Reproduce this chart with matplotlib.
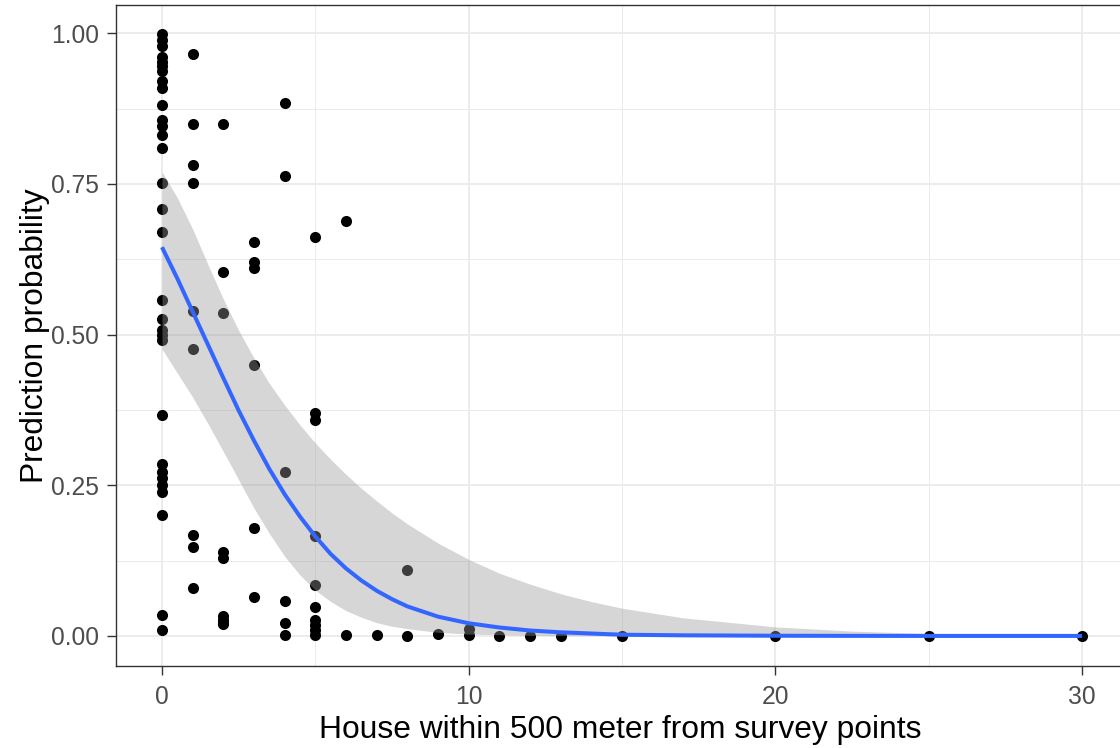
import matplotlib
matplotlib.use("Agg")
import matplotlib.pyplot as plt
from matplotlib.ticker import FixedLocator

# ---- observed points ----
house_x = ([0] * 31 + [1] * 9 + [2] * 9 + [3] * 6 + [4] * 6 + [5] * 10 +
           [6, 6, 7, 8, 8, 9, 10, 10, 11, 12, 13, 15, 20, 25, 30])
prob_y = [
    # x = 0
    0.998, 0.988, 0.978, 0.961, 0.953, 0.945, 0.937, 0.920, 0.909, 0.881,
    0.856, 0.846, 0.831, 0.809, 0.751, 0.709, 0.671, 0.557, 0.526, 0.507,
    0.499, 0.491, 0.367, 0.286, 0.272, 0.262, 0.250, 0.238, 0.200, 0.035,
    0.010,
    # x = 1
    0.965, 0.849, 0.782, 0.752, 0.539, 0.476, 0.167, 0.148, 0.079,
    # x = 2
    0.849, 0.603, 0.535, 0.140, 0.130, 0.033, 0.027, 0.021, 0.020,
    # x = 3
    0.654, 0.621, 0.610, 0.449, 0.179, 0.064,
    # x = 4
    0.884, 0.763, 0.272, 0.058, 0.021, 0.002,
    # x = 5
    0.662, 0.370, 0.358, 0.166, 0.085, 0.048, 0.027, 0.018, 0.010, 0.002,
    # x = 6 .. 30
    0.689, 0.001, 0.001, 0.109, 0.000, 0.003, 0.011, 0.001, 0.000, 0.000,
    0.000, 0.000, 0.000, 0.000, 0.000,
]

# ---- smoother (logistic fit) ----
x_fit = [0, 0.5, 1, 1.5, 2, 2.5, 3, 3.5, 4, 4.5, 5, 5.5, 6, 6.5, 7, 7.5, 8,
         9, 10, 11, 12, 13, 14, 15, 17, 20, 22.5, 25, 30]
fit = [0.645, 0.593, 0.538, 0.483, 0.428, 0.374, 0.324, 0.277, 0.235, 0.198,
       0.165, 0.136, 0.112, 0.092, 0.075, 0.061, 0.049, 0.032, 0.021, 0.014,
       0.009, 0.006, 0.004, 0.002, 0.001, 0.0003, 0.0001, 0.0, 0.0]
upper = [0.770, 0.727, 0.675, 0.616, 0.559, 0.507, 0.461, 0.419, 0.383, 0.350,
         0.320, 0.293, 0.268, 0.245, 0.224, 0.204, 0.186, 0.154, 0.127, 0.104,
         0.086, 0.070, 0.057, 0.046, 0.030, 0.015, 0.008, 0.004, 0.001]
lower = [0.476, 0.436, 0.396, 0.352, 0.306, 0.259, 0.212, 0.170, 0.132, 0.101,
         0.076, 0.057, 0.042, 0.031, 0.022, 0.016, 0.012, 0.006, 0.003, 0.002,
         0.001, 0.0005, 0.0003, 0.0002, 0.0001, 0.0, 0.0, 0.0, 0.0]

x_ticks = [0, 10, 20, 30]
x_minor = [5, 15, 25]
y_ticks = [0.00, 0.25, 0.50, 0.75, 1.00]
y_minor = [0.125, 0.375, 0.625, 0.875]
y_tick_labels = ["0.00", "0.25", "0.50", "0.75", "1.00"]

plt.rcParams['font.family'] = ['Liberation Sans', 'DejaVu Sans']

W, H = 1120, 748
fig = plt.figure(figsize=(W / 100, H / 100), dpi=100)
fig.patch.set_facecolor('white')
ax = fig.add_axes([116 / W, 82 / H, 1012 / W, 661 / H])

ax.set_xlim(-1.5, 31.5)
ax.set_ylim(-0.0499, 1.0468)

ax.xaxis.set_major_locator(FixedLocator(x_ticks))
ax.xaxis.set_minor_locator(FixedLocator(x_minor))
ax.yaxis.set_major_locator(FixedLocator(y_ticks))
ax.yaxis.set_minor_locator(FixedLocator(y_minor))
ax.set_yticklabels(y_tick_labels)

ax.set_axisbelow(True)
ax.grid(which='major', color='#EBEBEB', linewidth=1.3)
ax.grid(which='minor', color='#EBEBEB', linewidth=0.7)

for s in ax.spines.values():
    s.set_color('#333333')
    s.set_linewidth(1.0)

ax.tick_params(which='major', length=6.5, width=1.0, color='#333333',
               labelsize=17.7, labelcolor='#4D4D4D')
ax.tick_params(axis='y', which='major', pad=5.8)
ax.tick_params(axis='x', which='major', pad=7.0)
ax.tick_params(which='minor', length=0)

ax.scatter(house_x, prob_y, s=64, c='black', linewidths=0, zorder=2)
ax.fill_between(x_fit, lower, upper, color='#999999', alpha=0.4,
                linewidth=0, zorder=3)
ax.plot(x_fit, fit, color='#3366FF', linewidth=2.9, zorder=4,
        solid_capstyle='butt')

fig.text(620 / W, (H - 738) / H, "House within 500 meter from survey points",
         ha='center', va='baseline', fontsize=22.9, color='black')
fig.text(35 / W, 1 - 335.5 / H, "Prediction probability", rotation=90,
         ha='center', va='center', fontsize=22.9, color='black')

fig.savefig("out.png", dpi=100)
